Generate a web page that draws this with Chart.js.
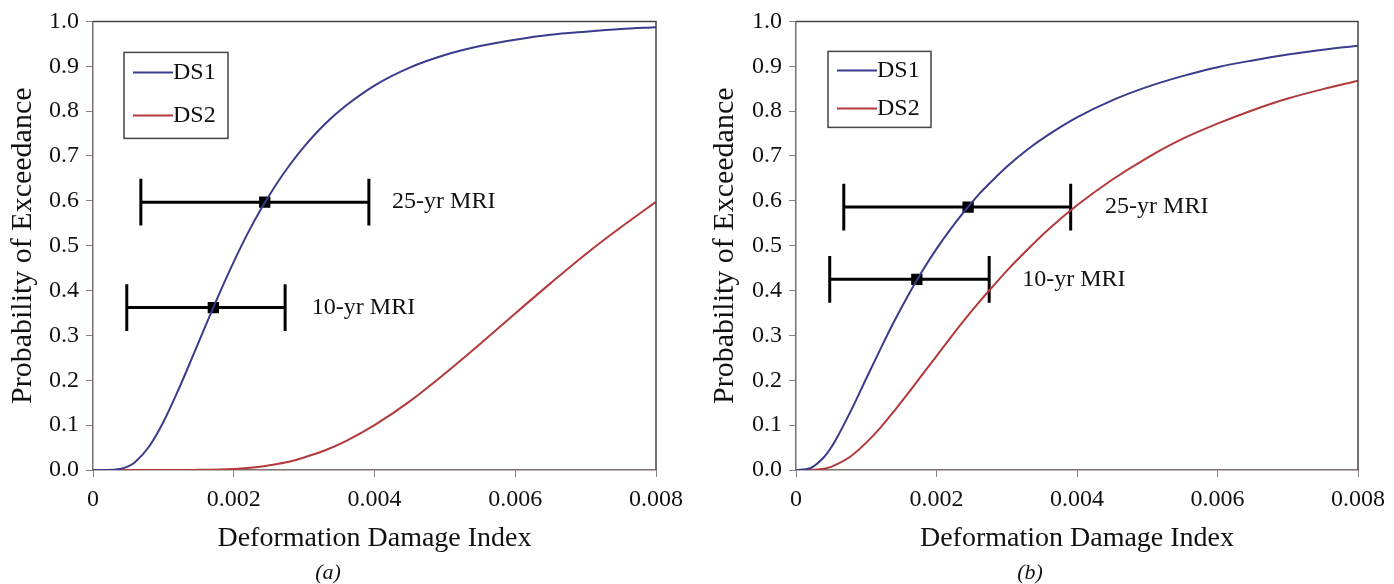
<!DOCTYPE html>
<html>
<head>
<meta charset="utf-8">
<script src="https://cdn.jsdelivr.net/npm/chart.js@4.4.0/dist/chart.umd.min.js"></script>
<style>
  body { margin: 0; background: #fff; }
  .panel { position: absolute; top: 0; height: 584px; }
  #panelA { left: 0; width: 697px; }
  #panelB { left: 700px; width: 694px; }
</style>
</head>
<body>
<div class="panel" id="panelA"><canvas id="chartA"></canvas></div>
<div class="panel" id="panelB"><canvas id="chartB"></canvas></div>
<script>
// deformation damage index sample points (shared by all curves)
const xVals = [0, 0.0002, 0.0004, 0.0005, 0.0006, 0.0008, 0.001, 0.0012, 0.0014, 0.0016, 0.0018, 0.002,
  0.0022, 0.0024, 0.0026, 0.0028, 0.003, 0.0033, 0.0036, 0.004, 0.0045, 0.005, 0.0055, 0.006,
  0.0065, 0.007, 0.0075, 0.008];

// panel (a)
const ds1A = [0, 0, 0.003, 0.008, 0.018, 0.053, 0.107, 0.174, 0.247, 0.322, 0.395, 0.464,
  0.528, 0.585, 0.636, 0.681, 0.721, 0.772, 0.813, 0.857, 0.897, 0.925, 0.945, 0.959,
  0.970, 0.977, 0.983, 0.987];
const ds2A = [0, 0, 0, 0, 0, 0, 0, 0, 0, 0.0005, 0.001, 0.0024,
  0.0046, 0.008, 0.013, 0.019, 0.028, 0.044, 0.065, 0.100, 0.153, 0.215, 0.281, 0.349,
  0.416, 0.481, 0.541, 0.598];

// panel (b)
const ds1B = [0, 0.004, 0.029, 0.050, 0.077, 0.138, 0.204, 0.269, 0.332, 0.390, 0.444, 0.493,
  0.537, 0.577, 0.614, 0.646, 0.676, 0.715, 0.748, 0.786, 0.824, 0.854, 0.878, 0.898,
  0.913, 0.926, 0.937, 0.946];
const ds2B = [0, 0.0002, 0.003, 0.007, 0.014, 0.033, 0.061, 0.094, 0.132, 0.172, 0.213, 0.254,
  0.295, 0.335, 0.373, 0.409, 0.444, 0.492, 0.537, 0.590, 0.647, 0.696, 0.738, 0.772,
  0.802, 0.828, 0.849, 0.868];

// MRI ranges: [25-yr, 10-yr]
const mriNames = ['25-yr MRI', '10-yr MRI'];
const mriLowA = [0.00068, 0.00048];
const mriMidA = [0.00244, 0.00171];
const mriHighA = [0.00392, 0.00273];
const mriProbA = [0.597, 0.362];
const mriTextXA = [0.00425, 0.00311];

const mriLowB = [0.00068, 0.00048];
const mriMidB = [0.00245, 0.00172];
const mriHighB = [0.00391, 0.00275];
const mriProbB = [0.586, 0.425];
const mriTextXB = [0.0044, 0.00322];

const capHalf = 0.052;

const SERIF = '"Liberation Serif", "Times New Roman", serif';
const BLUE = '#3b3b8e';
const RED = '#b23a3a';

const extras = {
  id: 'extras',
  afterDatasetsDraw(chart, args, opts) {
    const ctx = chart.ctx;
    const area = chart.chartArea;
    const xs = chart.scales.x, ys = chart.scales.y;
    ctx.save();
    // top and right frame
    ctx.strokeStyle = '#444';
    ctx.lineWidth = 1.5;
    ctx.beginPath();
    ctx.moveTo(area.left, area.top);
    ctx.lineTo(area.right, area.top);
    ctx.lineTo(area.right, area.bottom);
    ctx.stroke();

    ctx.fillStyle = '#111';
    ctx.font = '24px ' + SERIF;
    ctx.textAlign = 'left';
    ctx.textBaseline = 'middle';
    opts.notes.forEach(n => {
      ctx.fillText(n.text, xs.getPixelForValue(n.x), ys.getPixelForValue(n.y));
    });

    // legend box
    const b = opts.box;
    const bx = area.left + b.x, by = area.top + b.y;
    ctx.strokeStyle = '#444';
    ctx.lineWidth = 1.5;
    ctx.strokeRect(bx, by, b.w, b.h);
    b.rows.forEach((ry, i) => {
      const ds = chart.data.datasets[i];
      ctx.strokeStyle = ds.borderColor;
      ctx.lineWidth = 2;
      ctx.beginPath();
      ctx.moveTo(bx + 9, by + ry);
      ctx.lineTo(bx + 49, by + ry);
      ctx.stroke();
      ctx.fillStyle = '#111';
      ctx.fillText(ds.label, bx + 49, by + ry);
    });
    ctx.restore();
  }
};

function makeChart(id, ds1, ds2, lo, mid, hi, prob, textX, caption, pad, box) {
  const datasets = [
    { label: 'DS1', data: xVals.map((x, i) => ({ x: x, y: ds1[i] })), borderColor: BLUE },
    { label: 'DS2', data: xVals.map((x, i) => ({ x: x, y: ds2[i] })), borderColor: RED }
  ].map(d => Object.assign(d, {
    showLine: true, borderWidth: 2, pointRadius: 0, cubicInterpolationMode: 'monotone', fill: false
  }));

  const notes = [];
  mriNames.forEach((name, i) => {
    const bar = { showLine: true, borderColor: '#000', borderWidth: 3, pointRadius: 0 };
    datasets.push(Object.assign({ label: name, data: [{ x: lo[i], y: prob[i] }, { x: hi[i], y: prob[i] }] }, bar));
    datasets.push(Object.assign({ label: name, data: [{ x: lo[i], y: prob[i] - capHalf }, { x: lo[i], y: prob[i] + capHalf }] }, bar));
    datasets.push(Object.assign({ label: name, data: [{ x: hi[i], y: prob[i] - capHalf }, { x: hi[i], y: prob[i] + capHalf }] }, bar));
    datasets.push({
      label: name, data: [{ x: mid[i], y: prob[i] }], showLine: false,
      pointStyle: 'rect', pointRadius: 8, backgroundColor: '#000', borderColor: '#000', borderWidth: 0
    });
    notes.push({ text: name, x: textX[i], y: prob[i] });
  });

  new Chart(document.getElementById(id), {
    type: 'scatter',
    data: { datasets: datasets },
    options: {
      responsive: true,
      maintainAspectRatio: false,
      animation: false,
      layout: { padding: { left: pad.left, right: pad.right, top: 21, bottom: 0 } },
      plugins: {
        legend: { display: false },
        tooltip: { enabled: false },
        title: {
          display: true, text: caption, position: 'bottom',
          color: '#111', padding: { top: 4, bottom: 0 },
          font: { family: SERIF, size: 22, style: 'italic', weight: 'normal', lineHeight: 1.0 }
        },
        extras: { notes: notes, box: box }
      },
      scales: {
        x: {
          type: 'linear', min: 0, max: 0.008,
          afterFit: s => { s.height = 88; },
          border: { display: true, color: '#7a7070', width: 1.5 },
          grid: { drawOnChartArea: false, drawTicks: true, tickLength: 7, color: '#8a8080' },
          ticks: {
            stepSize: 0.002, color: '#111', padding: 8,
            font: { family: SERIF, size: 24 },
            callback: v => v === 0 ? '0' : v.toFixed(3)
          },
          title: {
            display: true, text: 'Deformation Damage Index', color: '#111',
            padding: { top: 0, bottom: 3 },
            font: { family: SERIF, size: 28, lineHeight: 1.2 }
          }
        },
        y: {
          min: 0, max: 1,
          afterFit: s => { s.width = pad.axis; },
          border: { display: true, color: '#7a7070', width: 1.5 },
          grid: { drawOnChartArea: false, drawTicks: true, tickLength: 7, color: '#8a8080' },
          ticks: {
            stepSize: 0.1, color: '#111', padding: 7,
            font: { family: SERIF, size: 24 },
            callback: v => v.toFixed(1)
          },
          title: {
            display: true, text: 'Probability of Exceedance', color: '#111',
            padding: { top: 5, bottom: 4 },
            font: { family: SERIF, size: 30, lineHeight: 1.2 }
          }
        }
      }
    },
    plugins: [extras]
  });
}

makeChart('chartA', ds1A, ds2A, mriLowA, mriMidA, mriHighA, mriProbA, mriTextXA, '(a)',
  { left: 0, right: 41, axis: 93 },
  { x: 31, y: 31, w: 104, h: 86, rows: [20, 63] });

makeChart('chartB', ds1B, ds2B, mriLowB, mriMidB, mriHighB, mriProbB, mriTextXB, '(b)',
  { left: 2, right: 36, axis: 94 },
  { x: 32, y: 30, w: 103, h: 76, rows: [19, 57] });
</script>
</body>
</html>
